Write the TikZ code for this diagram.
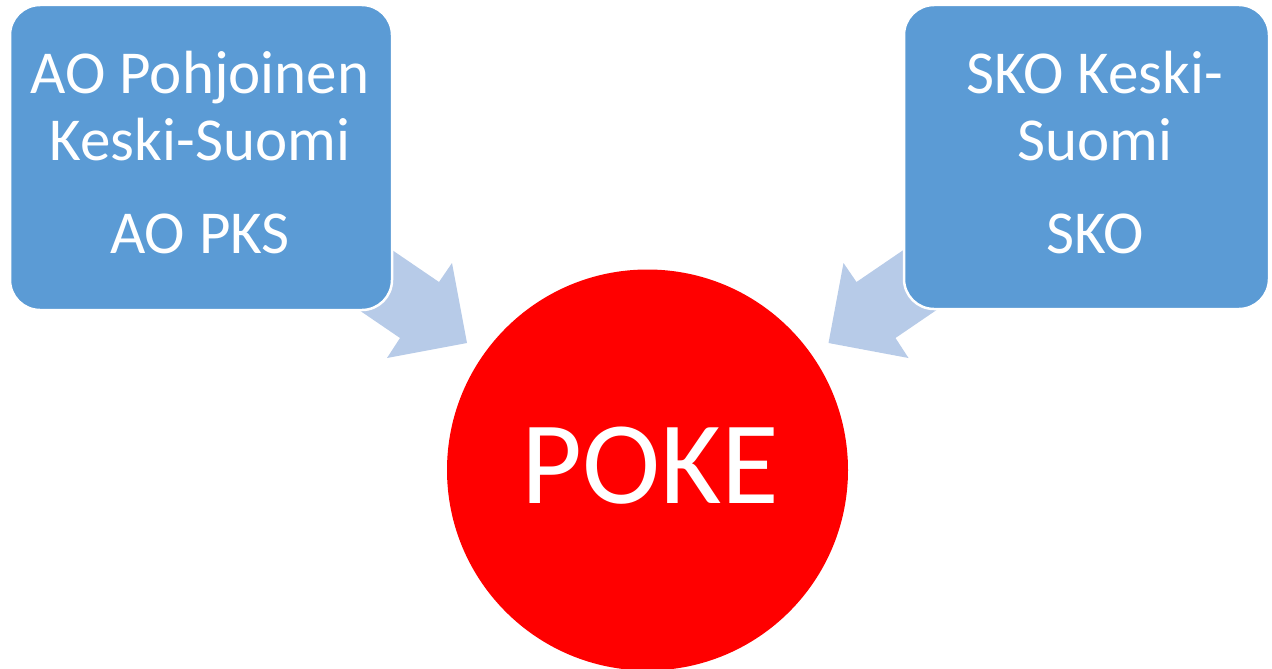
\documentclass[tikz,border=0pt]{standalone}
\usepackage{fontspec}
\newfontfamily\carl{Carlito}
\definecolor{boxblue}{HTML}{5B9BD5}
\definecolor{arrowblue}{HTML}{B7CBE8}
\definecolor{pokered}{HTML}{FF0000}
\begin{document}
\begin{tikzpicture}[x=1pt,y=-1pt,
  bluebox/.style={draw=white,line width=2.5pt,fill=boxblue,rounded corners=30pt,inner sep=0pt},
  boxtext/.style={anchor=base,text=white,inner sep=0pt,font=\carl\fontsize{61}{67}\selectfont},
  blockarrow/.style={fill=arrowblue,draw=none}]
\useasboundingbox (0,0) rectangle (1272,669);
% block arrows
\fill[blockarrow] (373,237) -- (439,282) -- (452,263) -- (467,343) -- (387,358) -- (400,338) -- (334,293) -- cycle;
\fill[blockarrow] (922.5,237) -- (856.5,282) -- (843.5,263) -- (828.5,343) -- (908.5,358) -- (895.5,338) -- (961.5,293) -- cycle;
% boxes
\node[bluebox,minimum width=382pt,minimum height=305pt] (lbox) at (201,157.5) {};
\node[bluebox,minimum width=365pt,minimum height=304pt] (rbox) at (1086.5,157) {};
% left texts
\node[boxtext] (l1) at (200,93) {AO Pohjoinen};
\node[boxtext] (l2) at (200,160) {Keski-Suomi};
\node[boxtext] (l3) at (200,253) {AO PKS};
% right texts
\node[boxtext] (r1) at (1095,93) {SKO Keski-};
\node[boxtext] (r2) at (1095,160) {Suomi};
\node[boxtext] (r3) at (1095,253) {SKO};
% circle
\fill[pokered] (647.5,470) circle (200.5);
\node[anchor=base,text=white,inner sep=0pt,font=\carl\fontsize{118}{130}\selectfont] (poke) at (650,503) {POKE};
\end{tikzpicture}
\end{document}
